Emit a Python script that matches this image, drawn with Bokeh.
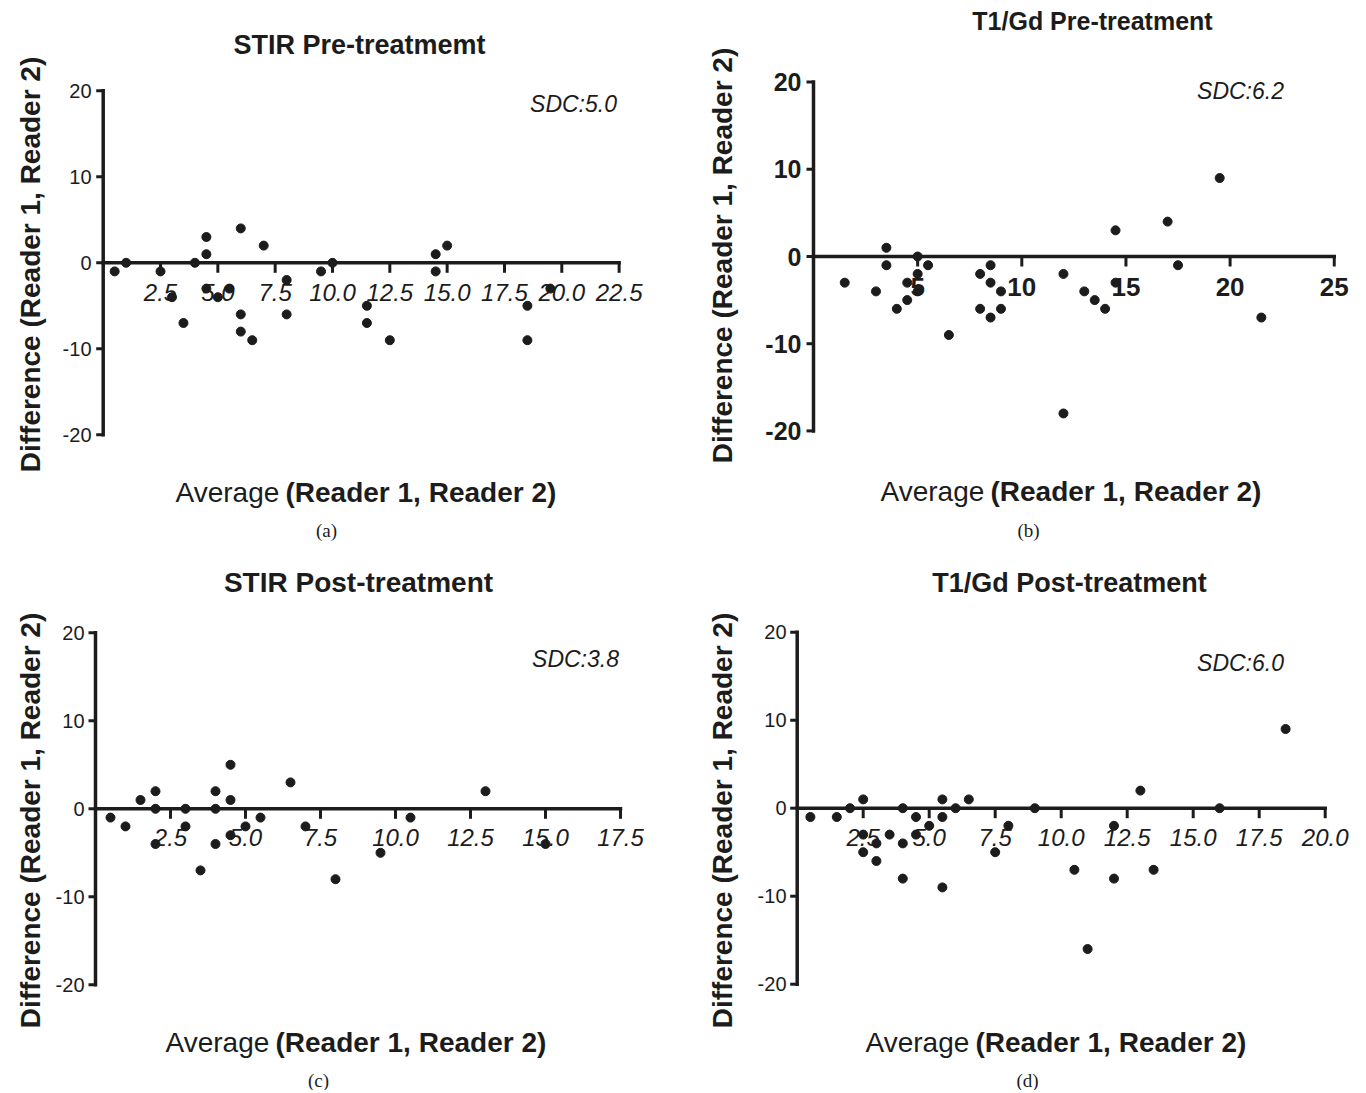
import math
from bokeh.plotting import figure
from bokeh.layouts import gridplot
from bokeh.models import Range1d
from bokeh.core.properties import value
from bokeh.embed import file_html
from bokeh.resources import INLINE

# ---------------- data ----------------
a_avg = [0.5, 1.0, 2.5, 3.0, 3.5, 4.0, 4.5, 4.5, 4.5, 5.0, 5.5, 6.0, 6.0, 6.0, 6.5, 7.0,
         8.0, 8.0, 9.5, 10.0, 11.5, 11.5, 12.5, 14.5, 14.5, 15.0, 18.5, 18.5, 19.5]
a_diff = [-1, 0, -1, -4, -7, 0, 3, 1, -3, -4, -3, 4, -6, -8, -9, 2,
          -2, -6, -1, 0, -5, -7, -9, 1, -1, 2, -5, -9, -3]

b_avg = [1.5, 3.0, 3.5, 3.5, 4.0, 4.5, 4.5, 5.0, 5.0, 5.0, 5.5, 6.5, 8.0, 8.0, 8.5, 8.5,
         8.5, 9.0, 9.0, 12.0, 12.0, 13.0, 13.5, 14.0, 14.5, 14.5, 17.0, 17.5, 19.5, 21.5]
b_diff = [-3, -4, 1, -1, -6, -3, -5, 0, -2, -4, -1, -9, -2, -6, -1, -3,
          -7, -4, -6, -2, -18, -4, -5, -6, 3, -3, 4, -1, 9, -7]

c_avg = [0.5, 1.0, 1.5, 2.0, 2.0, 2.0, 3.0, 3.0, 3.5, 4.0, 4.0, 4.0, 4.5, 4.5, 4.5, 5.0,
         5.5, 6.5, 7.0, 8.0, 9.5, 10.5, 13.0, 15.0]
c_diff = [-1, -2, 1, 2, 0, -4, 0, -2, -7, 2, 0, -4, 5, 1, -3, -2,
          -1, 3, -2, -8, -5, -1, 2, -4]

d_avg = [0.5, 1.5, 2.0, 2.5, 2.5, 2.5, 3.0, 3.0, 3.5, 4.0, 4.0, 4.0, 4.5, 4.5, 5.0, 5.5,
         5.5, 5.5, 6.0, 6.5, 7.5, 8.0, 9.0, 10.5, 11.0, 12.0, 12.0, 13.0, 13.5, 16.0, 18.5]
d_diff = [-1, -1, 0, 1, -3, -5, -4, -6, -3, 0, -4, -8, -1, -3, -2, 1,
          -1, -9, 0, 1, -5, -2, 0, -7, -16, -2, -8, 2, -7, 0, 9]

y_ticks = [-20, -10, 0, 10, 20]
y_labels = ["-20", "-10", "0", "10", "20"]
a_xticks = [2.5, 5.0, 7.5, 10.0, 12.5, 15.0, 17.5, 20.0, 22.5]
a_xlabels = ["2.5", "5.0", "7.5", "10.0", "12.5", "15.0", "17.5", "20.0", "22.5"]
b_xticks = [5, 10, 15, 20, 25]
b_xlabels = ["5", "10", "15", "20", "25"]
c_xticks = [2.5, 5.0, 7.5, 10.0, 12.5, 15.0, 17.5]
c_xlabels = ["2.5", "5.0", "7.5", "10.0", "12.5", "15.0", "17.5"]
d_xticks = [2.5, 5.0, 7.5, 10.0, 12.5, 15.0, 17.5, 20.0]
d_xlabels = ["2.5", "5.0", "7.5", "10.0", "12.5", "15.0", "17.5", "20.0"]

titles = ["STIR Pre-treatmemt", "T1/Gd Pre-treatment", "STIR Post-treatment", "T1/Gd Post-treatment"]
sdc_texts = ["SDC:5.0", "SDC:6.2", "SDC:3.8", "SDC:6.0"]
captions = ["(a)", "(b)", "(c)", "(d)"]
x_title_a = "Average"
x_title_b = "(Reader 1, Reader 2)"
y_title = "Difference (Reader 1, Reader 2)"

# ---------------- style / layout ----------------
INK = "#1c1c1c"
SANS = "Liberation Sans"
SERIF = "Liberation Serif"
W = 680
H = 545

panels = [
    dict(box=(0, 0, W, H), map=(102.7, 22.93, 262.3, 8.6),
         xtick_style=("italic", "24px"), ytick_style=("normal", "20px"), ylab_right=91,
         xlab_dy=30, title_xy=(359, 44), title_size="27px", sdc_xy=(573, 103),
         ytitle_xy=(30, 264), xtitle_xy=(175, 492), cap_xy=(326, 530)),
    dict(box=(W, 0, W, H), map=(813.0, 20.83, 256.0, 8.72),
         xtick_style=("bold", "26px"), ytick_style=("bold", "25px"), ylab_right=801,
         xlab_dy=30, title_xy=(1092, 20), title_size="25px", sdc_xy=(1240, 90),
         ytitle_xy=(722, 255), xtitle_xy=(880, 491), cap_xy=(1028, 530)),
    dict(box=(0, H, W, H), map=(95.0, 30.0, 808.3, 8.8),
         xtick_style=("italic", "24px"), ytick_style=("normal", "20px"), ylab_right=84,
         xlab_dy=29, title_xy=(358, 582), title_size="28px", sdc_xy=(575, 658),
         ytitle_xy=(30, 820), xtitle_xy=(165, 1042), cap_xy=(318, 1080)),
    dict(box=(W, H, W, H), map=(796.7, 26.4, 807.7, 8.8),
         xtick_style=("italic", "24px"), ytick_style=("normal", "20px"), ylab_right=786,
         xlab_dy=29, title_xy=(1069, 582), title_size="27px", sdc_xy=(1240, 662),
         ytitle_xy=(722, 820), xtitle_xy=(865, 1042), cap_xy=(1027, 1080)),
]


def make_panel(cfg, avg, diff, xticks, xlabels, title, sdc, caption):
    L, T, Wd, Hd = cfg["box"]
    ax, bx, y0, by = cfg["map"]

    def X(px):
        return (px - ax) / bx

    def Y(py):
        return (y0 - py) / by

    p = figure(width=Wd, height=Hd, x_range=Range1d(X(L), X(L + Wd)),
               y_range=Range1d(Y(T + Hd), Y(T)), output_backend="svg",
               toolbar_location=None, tools="", title=None,
               x_axis_location=None, y_axis_location=None, min_border=0)
    p.outline_line_color = None
    p.grid.visible = False
    p.background_fill_color = "white"
    p.border_fill_color = "white"

    lw = 3.5
    # y axis line and ticks
    p.segment(x0=[0], y0=[y_ticks[0]], x1=[0], y1=[y_ticks[-1]], line_width=lw,
              line_color=INK, line_cap="square")
    p.segment(x0=[-7 / bx] * len(y_ticks), y0=y_ticks, x1=[0] * len(y_ticks), y1=y_ticks,
              line_width=3, line_color=INK)
    # x axis line and ticks
    p.segment(x0=[0], y0=[0], x1=[xticks[-1]], y1=[0], line_width=lw, line_color=INK,
              line_cap="square")
    p.segment(x0=xticks, y0=[0] * len(xticks), x1=xticks, y1=[-10 / by] * len(xticks),
              line_width=3, line_color=INK)

    # tick labels
    ys, ysz = cfg["ytick_style"]
    p.text(x=[X(cfg["ylab_right"])] * len(y_ticks), y=y_ticks, text=y_labels,
           text_font=value(SANS), text_font_style=ys, text_font_size=ysz,
           text_align="right", text_baseline="middle", text_color=INK)
    xs, xsz = cfg["xtick_style"]
    p.text(x=xticks, y=[-cfg["xlab_dy"] / by] * len(xticks), text=xlabels,
           text_font=value(SANS), text_font_style=xs, text_font_size=xsz,
           text_align="center", text_baseline="middle", text_color=INK)

    # data points
    p.scatter(x=avg, y=diff, marker="circle", size=9, fill_color=INK, line_color=INK)

    # title
    tx, ty = cfg["title_xy"]
    p.text(x=[X(tx)], y=[Y(ty)], text=[title], text_font=value(SANS),
           text_font_style="bold", text_font_size=cfg["title_size"], text_align="center",
           text_baseline="middle", text_color=INK)
    # SDC
    sx, sy = cfg["sdc_xy"]
    p.text(x=[X(sx)], y=[Y(sy)], text=[sdc], text_font=value(SANS),
           text_font_style="italic", text_font_size="23px", text_align="center",
           text_baseline="middle", text_color=INK)
    # y title
    yx, yy = cfg["ytitle_xy"]
    p.text(x=[X(yx)], y=[Y(yy)], text=[y_title], angle=math.pi / 2,
           text_font=value(SANS), text_font_style="bold", text_font_size="28px",
           text_align="center", text_baseline="middle", text_color=INK)
    # x title
    xx, xy = cfg["xtitle_xy"]
    p.text(x=[X(xx)], y=[Y(xy)], text=[x_title_a], text_font=value(SANS),
           text_font_style="normal", text_font_size="28px", text_align="left",
           text_baseline="middle", text_color=INK)
    p.text(x=[X(xx + 110)], y=[Y(xy)], text=[x_title_b], text_font=value(SANS),
           text_font_style="bold", text_font_size="28px", text_align="left",
           text_baseline="middle", text_color=INK)
    # caption
    cx, cy = cfg["cap_xy"]
    p.text(x=[X(cx)], y=[Y(cy)], text=[caption], text_font=value(SERIF),
           text_font_size="19px", text_align="center", text_baseline="middle",
           text_color=INK)
    return p


pa = make_panel(panels[0], a_avg, a_diff, a_xticks, a_xlabels, titles[0], sdc_texts[0], captions[0])
pb = make_panel(panels[1], b_avg, b_diff, b_xticks, b_xlabels, titles[1], sdc_texts[1], captions[1])
pc = make_panel(panels[2], c_avg, c_diff, c_xticks, c_xlabels, titles[2], sdc_texts[2], captions[2])
pd_ = make_panel(panels[3], d_avg, d_diff, d_xticks, d_xlabels, titles[3], sdc_texts[3], captions[3])

grid = gridplot([[pa, pb], [pc, pd_]], toolbar_location=None)

open("out.html", "w").write(file_html(grid, INLINE))
